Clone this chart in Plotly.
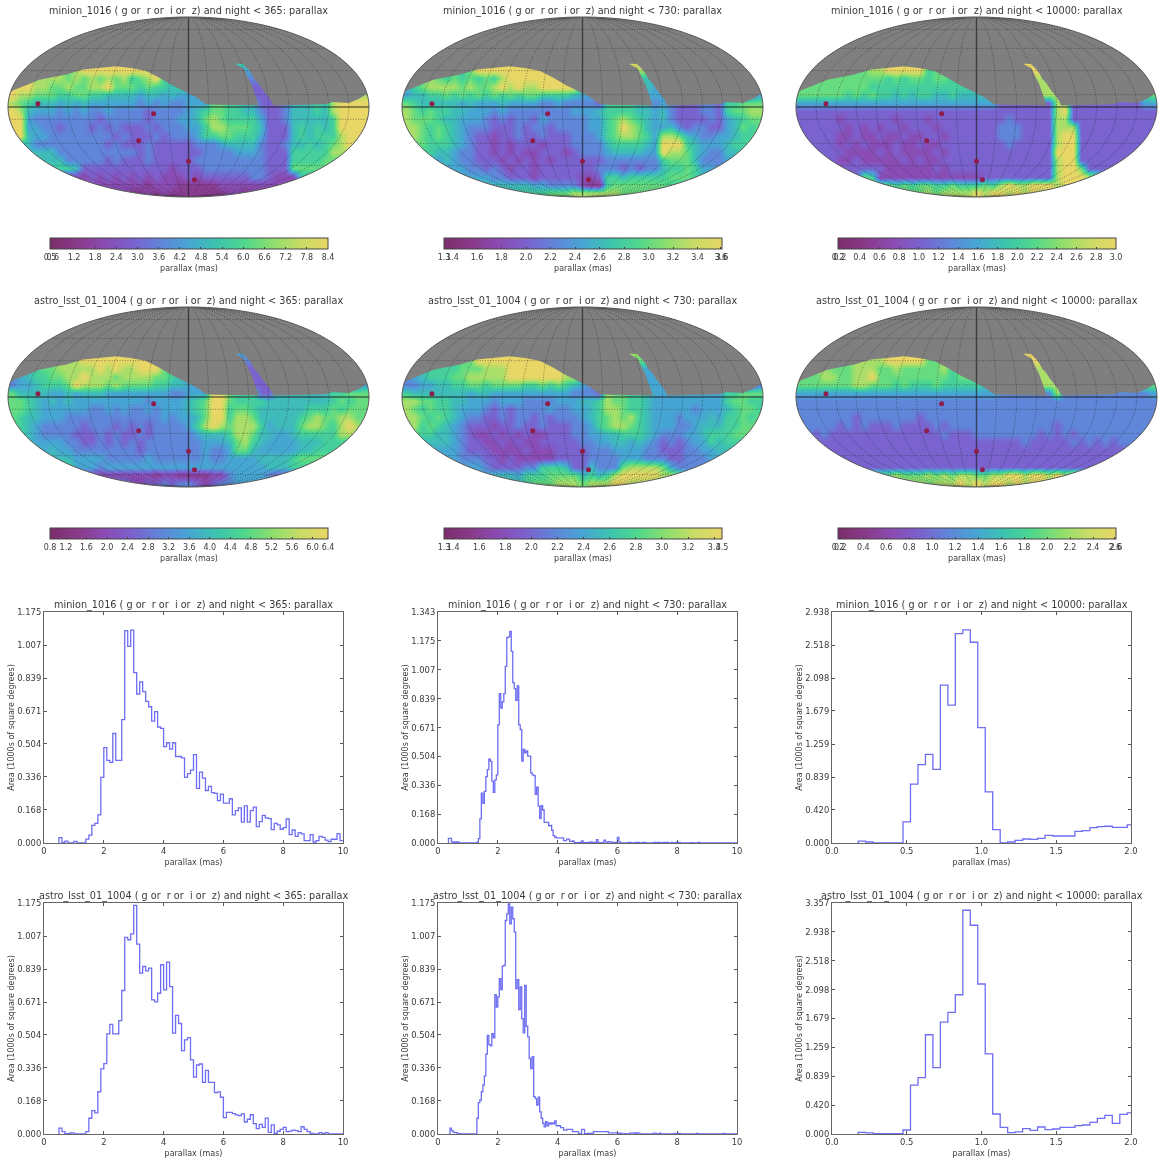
import math
import plotly.graph_objects as go

W, H = 1158, 1163

# ---------- sky maps: level per image cell (9 groups of 5 columns, 22 rows), '.' = no data ----------
blank = "..... ..... ..... ..... ..... ..... ..... ..... ....."
sky_minion_365 = [blank]*5 + [
"..... ..... ..... ..... ..... ...6. ..... ..... .....",
"..... ....9 99999 999.. ..... ....4 ..... ..... .....",
"....8 88787 87878 6789. ..... ....3 3.... ..... .....",
".9988 77877 88977 76766 56... ..... 22... ..... .....",
"98877 76677 66555 54554 5444. ..... .22.. ..... ....8",
"87655 54545 44444 43434 33444 ..... .22.. ..... ..999",
"98544 43434 33433 33233 33456 77665 53223 55565 89999",
"99433 33333 32333 33233 34457 87666 64223 55555 69999",
"99443 32333 23232 22323 33446 88777 65222 56565 69999",
"99544 33333 33323 22232 33346 67766 64222 56566 68999",
"55533 33333 33232 22322 22233 34555 53223 55656 78988",
"55555 53333 33333 32322 22223 33344 43222 66666 88888",
"55555 55333 33232 22322 22233 33333 33222 66667 77777",
"66666 66652 22222 22222 12223 33333 33222 77777 77777",
"55551 11111 21212 12121 11212 22222 33211 15555 55555",
"11111 11111 11111 11011 10000 01111 11111 11111 11111",
"11111 11111 11111 00101 00000 00110 11111 11111 11111",
]
sky_minion_730 = [blank]*5 + [
"..... ..... ..... ..... ..... ...9. ..... ..... .....",
"..... ....9 99999 999.. ..... ....8 ..... ..... .....",
"....7 67676 76899 9999. ..... ....6 5.... ..... .....",
".6788 88787 78989 88999 99... ..... 54... ..... .....",
"45566 76767 67676 77666 6544. ..... .44.. ..... ...34",
"76555 55454 44544 44334 33332 ..... .34.. ..... .6777",
"87676 65544 43433 33333 34445 66665 54532 22332 67788",
"87776 55444 32323 32433 33344 67876 54532 22232 45677",
"88767 65433 32223 23323 33344 67987 54453 23322 45767",
"88767 65432 21223 22322 23334 67887 64887 54334 45667",
"77766 65432 21212 22122 23333 56666 54999 65444 56677",
"66665 54332 21212 11222 12333 45555 44988 75433 55666",
"55554 54332 22121 21212 22222 33333 33677 75333 44566",
"44444 44433 23212 21222 22223 33232 33566 76443 44444",
"55555 55444 43322 21222 22112 66566 66677 76555 55555",
"55555 55555 55555 54433 33100 67777 77766 65555 55555",
"55555 55555 55555 66677 78888 88777 77777 55555 55555",
]
sky_minion_10000 = [blank]*5 + [
"..... ..... ..... ..... ..... ...9. ..... ..... .....",
"..... ....8 89999 9.... ..... ....9 ..... ..... .....",
"....7 77777 76767 7677. ..... ..... 8.... ..... .....",
".7777 77776 66666 66666 66... ..... 88... ..... .....",
"77777 76767 66565 66556 5555. ..... .88.. ..... ...67",
"44444 44444 44444 44444 44444 ..... ..88. ..... ...44",
"22222 22222 22222 22222 22222 22222 22892 22222 22222",
"22222 12222 22122 21222 22222 23222 22882 22222 22222",
"22222 21212 12212 22122 22222 33322 22888 22222 22222",
"22222 11211 21121 12212 22222 33322 22899 22222 22222",
"22222 12121 11211 21122 22222 23222 22899 22222 22222",
"22222 21111 21211 11212 22222 22222 22999 22222 22222",
"22222 11211 11121 21122 22222 22222 22899 22222 22222",
"22222 22222 21111 11212 22222 22222 22899 72222 22222",
"22222 22276 11111 11111 11122 22222 22899 98722 22222",
"77777 77777 77676 77667 66676 89889 99899 98777 77777",
"77777 77777 77777 78788 88989 98989 89898 77777 77777",
]
sky_astro_365 = [blank]*5 + [
"..... ..... ..... ..... ..... ...4. ..... ..... .....",
"..... ....9 99999 999.. ..... ....3 ..... ..... .....",
"....7 78888 89898 8999. ..... ....2 2.... ..... .....",
".4566 77889 88878 88877 65... ..... 22... ..... .....",
"34456 66798 88787 77766 5544. ..... .22.. ..... ...34",
"75555 44545 55444 44444 33444 ..... .22.. ..... .6777",
"77654 54544 44444 44344 44567 99766 66555 55555 67677",
"77654 44444 33434 33434 44567 99677 65555 55666 76777",
"76554 44333 33333 33334 34457 99688 75555 56787 78877",
"76543 33332 33323 23233 33468 98788 86455 57887 68987",
"66543 33322 23232 23233 33345 55688 75544 56666 68887",
"55544 44332 23232 32333 33334 44578 65444 45556 66666",
"55554 54433 33333 32333 33334 33477 54444 45566 67766",
"66665 55544 44333 33433 33334 33444 45555 67777 77777",
"66666 66644 43444 44444 44444 44444 44555 66666 66666",
"22222 22222 11111 11101 10000 11344 44322 22222 22222",
"33333 33333 33333 11223 23321 23344 44444 33333 33333",
]
sky_astro_730 = [blank]*5 + [
"..... ..... ..... ..... ..... ...8. ..... ..... .....",
"..... ....9 99999 999.. ..... ....7 ..... ..... .....",
"....6 66777 88899 9999. ..... ....5 4.... ..... .....",
".4566 67788 88899 99999 88... ..... 44... ..... .....",
"33445 56677 67777 66767 6543. ..... .44.. ..... ...23",
"65555 55545 54444 44444 43332 ..... .44.. ..... .6777",
"88776 65544 43444 33334 44556 87766 54444 44444 67766",
"87676 65444 32323 33343 34456 88766 54444 43444 56776",
"88767 65433 22323 32323 33456 78786 54443 44454 66767",
"78676 54322 21223 22322 23346 78876 54443 34555 66777",
"67665 54321 12121 21122 23344 55666 54333 44566 67776",
"66555 54322 11212 11222 22334 45545 43232 34465 66676",
"55444 44322 21111 21112 22233 34444 33222 33445 55566",
"44444 44333 22121 11112 22233 33444 33322 33344 55555",
"44444 44444 32222 33666 52253 33788 88743 33333 33333",
"44444 44444 45554 66677 77565 68999 99887 55444 44444",
"55555 55555 55555 67778 88788 89988 87776 55555 55555",
]
sky_astro_10000 = [blank]*5 + [
"..... ..... ..... ..... ..... ...9. ..... ..... .....",
"..... ....8 89999 9.... ..... ....9 ..... ..... .....",
"....7 77888 77877 7778. ..... ..... 8.... ..... .....",
".7788 77889 77777 77776 77... ..... 88... ..... .....",
"77777 77887 77676 66766 6665. ..... .88.. ..... ...77",
"44444 44444 44444 44444 44444 ..... ..8.. ..... ....4",
"33333 33333 33333 33333 33333 33333 33333 33333 33333",
"33333 33333 33333 33333 33333 33333 33333 33333 33333",
"33333 33233 33333 23333 33333 33333 33333 33333 33333",
"33333 23232 22322 22323 33333 33333 33233 33333 33333",
"23232 22222 22222 22232 22333 33333 23232 33333 33333",
"22222 22222 22222 22222 22222 22232 22223 23232 33333",
"22222 22222 22222 22222 22222 22222 22222 22222 22222",
"22222 22222 22222 22222 22222 22222 22222 22222 22222",
"22222 22222 22222 22222 22222 22222 22222 22222 22222",
"77777 77777 77877 78787 88778 89989 98989 88877 77777",
"88888 88888 88888 87888 98989 98989 98988 88888 88888",
]
level_fraction = [0.12, 0.20, 0.30, 0.40, 0.50, 0.57, 0.65, 0.74, 0.85, 1.0]

# footprint edge (map units: x -1..1, y -0.5..0.5)
north_edge_x = [-1.0, -.972, -.935, -.88, -.825, -.77, -.677, -.585, -.493, -.40, -.309, -.235, -.161, -.088, -.014,
                .041, .097, .152, .39]
north_edge_y = [.065, .093, .107, .13, .152, .163, .181, .209, .217, .226, .215, .2, .163, .12, .083,
                .056, .015, .013, .009]
east_edge_x = [.47, .76, .797, .889, .945, .982, 1.0]
east_edge_y = [.009, .015, .028, .022, .046, .069, .074]
streak_y = [.009, .046, .074, .102, .13, .157, .185, .213, .24]
streak_left = [.39, .377, .364, .355, .346, .332, .319, .306, .258]
streak_right = [.47, .451, .429, .407, .389, .364, .35, .328, .3]

ddf_x = [-0.834, -0.193, -0.276, 0.0, 0.033]
ddf_y = [0.0185, -0.037, -0.187, -0.302, -0.404]

sky_titles = [
    "minion_1016 ( g or  r or  i or  z) and night < 365: parallax",
    "minion_1016 ( g or  r or  i or  z) and night < 730: parallax",
    "minion_1016 ( g or  r or  i or  z) and night < 10000: parallax",
    "astro_lsst_01_1004 ( g or  r or  i or  z) and night < 365: parallax",
    "astro_lsst_01_1004 ( g or  r or  i or  z) and night < 730: parallax",
    "astro_lsst_01_1004 ( g or  r or  i or  z) and night < 10000: parallax",
]
sky_grids = [sky_minion_365, sky_minion_730, sky_minion_10000,
             sky_astro_365, sky_astro_730, sky_astro_10000]
sky_range = [(0.52, 8.4), (1.33, 3.6), (0.18, 3.0), (0.89, 6.3), (1.33, 3.46), (0.18, 2.6)]
sky_tickvals = [
    [0.52, 0.6, 1.2, 1.8, 2.4, 3.0, 3.6, 4.2, 4.8, 5.4, 6.0, 6.6, 7.2, 7.8, 8.4],
    [1.33, 1.4, 1.6, 1.8, 2.0, 2.2, 2.4, 2.6, 2.8, 3.0, 3.2, 3.4, 3.59, 3.6],
    [0.18, 0.2, 0.4, 0.6, 0.8, 1.0, 1.2, 1.4, 1.6, 1.8, 2.0, 2.2, 2.4, 2.6, 2.8, 3.0],
    [0.89, 1.2, 1.6, 2.0, 2.4, 2.8, 3.2, 3.6, 4.0, 4.4, 4.8, 5.2, 5.6, 6.0, 6.3],
    [1.33, 1.4, 1.6, 1.8, 2.0, 2.2, 2.4, 2.6, 2.8, 3.0, 3.2, 3.4, 3.46],
    [0.18, 0.2, 0.4, 0.6, 0.8, 1.0, 1.2, 1.4, 1.6, 1.8, 2.0, 2.2, 2.4, 2.59, 2.6],
]
sky_ticktext = [
    ["0.5", "0.6", "1.2", "1.8", "2.4", "3.0", "3.6", "4.2", "4.8", "5.4", "6.0", "6.6", "7.2", "7.8", "8.4"],
    ["1.3", "1.4", "1.6", "1.8", "2.0", "2.2", "2.4", "2.6", "2.8", "3.0", "3.2", "3.4", "3.6", "3.6"],
    ["0.2", "0.2", "0.4", "0.6", "0.8", "1.0", "1.2", "1.4", "1.6", "1.8", "2.0", "2.2", "2.4", "2.6", "2.8", "3.0"],
    ["0.8", "1.2", "1.6", "2.0", "2.4", "2.8", "3.2", "3.6", "4.0", "4.4", "4.8", "5.2", "5.6", "6.0", "6.4"],
    ["1.3", "1.4", "1.6", "1.8", "2.0", "2.2", "2.4", "2.6", "2.8", "3.0", "3.2", "3.4", "3.5"],
    ["0.2", "0.2", "0.4", "0.6", "0.8", "1.0", "1.2", "1.4", "1.6", "1.8", "2.0", "2.2", "2.4", "2.6", "2.6"],
]

# ---------- histograms: area per bin ----------
hist_a_start, hist_a_width = 0.5, 0.1
hist_a = [.027,.003,.01,0,0,.008,0,0,0,.02,.04,.09,.10,.143,.334,.485,.42,.41,.557,.42,.42,.628,1.08,1.0,1.083,
 .867,.758,.82,.77,.72,.693,.62,.668,.59,.583,.49,.51,.477,.51,.44,.44,.433,.334,.353,.371,.45,.278,.361,.33,.267,
 .288,.256,.252,.216,.249,.203,.203,.225,.143,.165,.179,.106,.189,.106,.165,.182,.083,.109,.141,.128,.124,.068,.10,.092,.07,
 .078,.122,.043,.066,.034,.053,.046,.012,.012,.043,.005,.012,.034,.029,.015,.007,.019,.019,.048,.012]
hist_d_start, hist_d_width = 0.5, 0.1
hist_d = [.03,.012,.002,.003,.006,0,0,0,0,.012,.08,.119,.107,.215,.331,.358,.509,.558,.509,.509,.577,.73,1.0,.988,1.018,
 1.163,.966,.818,.852,.83,.844,.682,.672,.716,.861,.733,.874,.75,.513,.603,.562,.424,.479,.49,.377,.289,.351,.356,.263,.324,
 .263,.263,.21,.214,.187,.083,.11,.11,.104,.097,.093,.102,.061,.075,.098,.053,.027,.049,.034,.081,.008,.046,.003,.014,.024,
 .034,.012,.015,.02,.017,.012,.037,.024,.012,.003,0,0,.007,.002,.007,0,0,0,0,0]
hist_b_start, hist_b_width = 0.35, 0.05
hist_b = [.027,.027,.006,.003,.006,.004,.006, 0,0,0,0,0,0,0,0,0,0,0,0,
 .004,.025,.14,.29,.23,.30,.386,.427,.487,.475,.36,.295,.367,.396,
 .687,.868,.784,.82,.868,1.027,1.194,1.198,1.23,1.114,
 .932,.897,.829,.913,.687,.66,.476,.544,.524,.536,
 .505,.505,.408,.396,.392,.283,.324,.214,.144,.217,
 .192,.12,.12,.12,.10,.103,.074,.043,.035,.03,
 .03,.03,.03,.03,.014,.014,.023,.023,.01,.01,
 .012,.004,.002,.002,.004,.004,.012,.004,.002,.002,
 .004,.004,.006,.003,.004,.003,.02,.003,.002,.002,
 .002,.016,.006,.002,.008,.006,.004,.003,.004,.002,
 .033,.006,0,0,0,0,0,.004,.004,.002,
 0,0,.003,0,.003,0,0,.003,.003,0,
 0,0,0,0,.003,.004,0,.003,0,.002,
 0,.003,0,.003,0,0,.004,0,0,.003,
 0,.003,0,0,0,0,0,0,0,.002,
 0,0,0,0,.003,0,0,0,0,0,
 0,0,0,0,0,0,0,0,0,0,
 0,0,0,0,0,0,0,0,0,0]
hist_e_start, hist_e_width = 0.4, 0.05
hist_e = [.03,.017,.01,.007,.007,.002,.002,.001,0,0,0,0,0,0,0,0,0,0,
 .08,.16,.173,.215,.249,.296,.406,.502,.455,.448,.511,.489,.709,.646,
 .697,.79,.734,.854,.858,1.086,1.12,1.17,1.069,1.154,
 1.095,1.027,.739,.785,.633,.748,.587,.514,.756,.548,
 .494,.384,.333,.394,.19,.18,.147,.188,.113,.08,
 .054,.036,.063,.042,.056,.05,.056,.052,.066,.042,
 .042,.042,.032,.032,.02,.02,.024,.024,.024,.024,
 .012,.012,.012,.012,.002,.002,.024,.024,.002,.002,
 .003,.003,.003,.004,.012,.012,.012,.012,.012,.012,
 .012,.012,.012,.012,.006,.006,.006,.006,.006,.006,
 .004,0,.004,0,0,.002,0,0,.004,.004,
 .004,.006,.003,.006,.004,0,0,0,0,0,
 0,0,0,0,.004,.004,0,0,.004,0,
 0,0,0,0,0,0,0,0,.003,0,
 0,.003,0,0,0,0,0,0,0,0,
 0,0,0,.003,0,0,0,0,0,0,
 0,0,0,0,0,0,0,0,0,0,
 0,.003,0,0,0,0,0,0,0,0]
hist_c_start, hist_c_width = 0.175, 0.05
hist_c = [.025,.013,.002,.002,.002,.002,.268,.749,.996,1.128,.936,2.009,1.753,2.664,2.711,2.553,1.468,.651,.17,.002,
 .013,.034,.051,.047,.06,.098,.089,.089,.089,.149,.157,.196,.209,.213,.2,.2,.23]
hist_f_start, hist_f_width = 0.175, 0.05
hist_f = [.024,.015,.004,.004,.004,.004,.058,.709,.82,1.442,.966,1.626,1.767,2.024,3.252,3.034,2.18,1.165,.291,.097,
 .02,.03,.078,.053,.102,.063,.073,.097,.097,.121,.131,.17,.228,.272,.155,.286,.306]

hist_series = [(hist_a_start, hist_a_width, hist_a), (hist_b_start, hist_b_width, hist_b), (hist_c_start, hist_c_width, hist_c),
               (hist_d_start, hist_d_width, hist_d), (hist_e_start, hist_e_width, hist_e), (hist_f_start, hist_f_width, hist_f)]
yticks_low = [0.0, .168, .336, .504, .671, .839, 1.007, 1.175]
yticks_mid = [0.0, .168, .336, .504, .671, .839, 1.007, 1.175, 1.343]
yticks_high = [0.0, .420, .839, 1.259, 1.679, 2.098, 2.518, 2.938]
yticks_top = [0.0, .420, .839, 1.259, 1.679, 2.098, 2.518, 2.938, 3.357]
hist_yticks = [yticks_low, yticks_mid, yticks_high, yticks_low, yticks_low, yticks_top]
xticks_wide = [0, 2, 4, 6, 8, 10]
xticks_narrow = [0.0, 0.5, 1.0, 1.5, 2.0]
hist_xticks = [xticks_wide, xticks_wide, xticks_narrow, xticks_wide, xticks_wide, xticks_narrow]

# ---------- style and layout ----------
FONT = "DejaVu Sans"
TXT = "#3a3a3a"
GRAY = "#7f7f7f"
colorscale = [[0.0, "#7b2d6b"], [0.1, "#8a3a8a"], [0.2, "#8a4cb4"], [0.3, "#7a62cf"], [0.4, "#5f86d9"],
              [0.5, "#46a6d3"], [0.6, "#3cc4ae"], [0.7, "#4fd88c"], [0.8, "#8cdf6e"], [0.9, "#c8dc66"], [1.0, "#e8d666"]]

map_boxes = [(8, 17), (402, 17), (796, 17), (8, 307), (402, 307), (796, 307)]   # left, top of ellipse box
MAP_W, MAP_H = 361, 180
PAD = 1   # px of room round the ellipse so the white mask covers every edge of the heatmap
bar_boxes = [(50, 238), (444, 238), (838, 238), (50, 528), (444, 528), (838, 528)]
BAR_W, BAR_H = 278, 11
hist_boxes = [(44, 612), (438, 612), (832, 612), (44, 903), (438, 903), (832, 903)]
HIST_W, HIST_H = 299, 231
title_y_map = [10.5, 10.5, 10.5, 300.5, 300.5, 300.5]
title_y_hist = [605, 605, 605, 896, 896, 896]


def theta_of(lat):
    p = math.radians(lat)
    t = p
    for _ in range(60):
        d = 2*t + math.sin(2*t) - math.pi*math.sin(p)
        dd = 2 + 2*math.cos(2*t)
        if abs(dd) < 1e-9:
            break
        t -= d/dd
    return t


def proj(lon, lat):
    t = theta_of(lat)
    return lon/180*math.cos(t), 0.5*math.sin(t)


def fill_rows(rows):
    """Cells without data take a neighbour's level, so the smoothed image has no holes; the gray footprint trace hides them."""
    cells = [list(r.replace(" ", "").ljust(45, ".")[:45]) for r in rows]
    for r in range(len(cells)-2, -1, -1):
        row = cells[r]
        src = row[:]
        for c in range(45):
            if src[c] != ".":
                continue
            below = cells[r+1][c]
            has = [k for k in range(45) if src[k] != "."]
            if r == 10 or c < 24 or not has:
                row[c] = below
            else:
                row[c] = src[min(has, key=lambda k: abs(k-c))]
    return cells


ex_pad = 2*PAD/MAP_W
ey_pad = PAD/MAP_H
RX, RY = 1+ex_pad, 0.5+ey_pad
ellipse = [(math.cos(2*math.pi*i/180), 0.5*math.sin(2*math.pi*i/180)) for i in range(180)]
ellipse_path = "M" + " L".join(f"{a:.4f},{b:.4f}" for a, b in ellipse) + " Z"
mask_path = f"M{-RX},{-RY} L{RX},{-RY} L{RX},{RY} L{-RX},{RY} Z " + ellipse_path

gray_x = north_edge_x + streak_left + streak_right[::-1] + east_edge_x + [RX, RX, -RX, -RX]
gray_y = north_edge_y + streak_y + streak_y[::-1] + east_edge_y + [east_edge_y[-1], RY, RY, north_edge_y[0]]

grid_x, grid_y = [], []
lats = [la for la in range(-89, 90, 4)] + [89]
for lon in [m for m in range(-160, 161, 20) if m != 0]:
    for la in lats:
        a, b = proj(lon, la)
        grid_x.append(a); grid_y.append(b)
    grid_x.append(None); grid_y.append(None)
for lat in (-70, -50, -30, -10, 10, 30, 50, 70):
    for lo in range(-180, 181, 10):
        a, b = proj(lo, lat)
        grid_x.append(a); grid_y.append(b)
    grid_x.append(None); grid_y.append(None)

fig = go.Figure()
layout = dict(width=W, height=H, margin=dict(l=0, r=0, t=0, b=0, autoexpand=False), paper_bgcolor="white", plot_bgcolor="white",
              showlegend=False, font=dict(family=FONT, size=8, color=TXT), hovermode=False)
shapes, annotations = [], []

for i, rows in enumerate(sky_grids):
    ax = i + 1
    xn, yn = ("x" if ax == 1 else f"x{ax}"), ("y" if ax == 1 else f"y{ax}")
    xa, ya = ("xaxis" if ax == 1 else f"xaxis{ax}"), ("yaxis" if ax == 1 else f"yaxis{ax}")
    left, top = map_boxes[i]
    layout[xa] = dict(domain=[(left-PAD)/W, min(1, (left+MAP_W+PAD)/W)], range=[-RX, RX], visible=False, anchor=yn)
    layout[ya] = dict(domain=[1-(top+MAP_H+PAD)/H, 1-(top-PAD)/H], range=[-RY, RY], visible=False, anchor=xn)
    vmin, vmax = sky_range[i]
    cells = fill_rows(rows)
    z = [[None if ch == "." else vmin + level_fraction[int(ch)]*(vmax-vmin) for ch in row] for row in reversed(cells)]
    nr = len(cells)
    bx, by = bar_boxes[i]
    fig.add_trace(go.Heatmap(
        z=z,
        x=[-1 + (c+0.5)*2/45 for c in range(45)],
        y=[-0.5 + (r+0.5)/nr for r in range(nr)],
        xaxis=xn, yaxis=yn, zmin=vmin, zmax=vmax, colorscale=colorscale, zsmooth="best", hoverinfo="skip",
        colorbar=dict(orientation="h", x=bx/W, xanchor="left", y=1-by/H, yanchor="top",
                      len=BAR_W, lenmode="pixels", thickness=BAR_H, thicknessmode="pixels", xpad=0, ypad=0,
                      outlinewidth=1, outlinecolor="#444444", borderwidth=0,
                      tickmode="array", tickvals=sky_tickvals[i], ticktext=sky_ticktext[i], tickangle=0,
                      ticks="inside", ticklen=2, tickwidth=0.6, tickcolor="#444444",
                      tickfont=dict(family=FONT, size=8, color=TXT),
                      title=dict(text="parallax (mas)", side="bottom", font=dict(family=FONT, size=8, color=TXT))),
    ))
    fig.add_trace(go.Scatter(x=gray_x, y=gray_y, xaxis=xn, yaxis=yn, mode="lines", fill="toself", hoverinfo="skip",
                             fillcolor=GRAY, line=dict(color=GRAY, width=0)))
    fig.add_trace(go.Scatter(x=grid_x, y=grid_y, xaxis=xn, yaxis=yn, mode="lines", hoverinfo="skip",
                             line=dict(color="rgba(30,30,30,0.6)", width=0.8, dash="1px,1.6px")))
    fig.add_trace(go.Scatter(x=[-1, 1, None, 0, 0], y=[0, 0, None, -0.5, 0.5], xaxis=xn, yaxis=yn, mode="lines",
                             hoverinfo="skip", line=dict(color="rgba(25,25,25,0.62)", width=1.4)))
    fig.add_trace(go.Scatter(x=ddf_x, y=ddf_y, xaxis=xn, yaxis=yn, mode="markers", hoverinfo="skip",
                             marker=dict(color="#8f1d4c", size=5, line=dict(width=0))))
    shapes.append(dict(type="path", path=mask_path, xref=xn, yref=yn, layer="above",
                       fillcolor="white", line=dict(width=0)))
    shapes.append(dict(type="path", path=ellipse_path, xref=xn, yref=yn, layer="above",
                       fillcolor="rgba(0,0,0,0)", line=dict(width=1, color="#555555")))
    annotations.append(dict(text=sky_titles[i], xref="paper", yref="paper", x=(left+MAP_W/2)/W, y=1-title_y_map[i]/H,
                            xanchor="center", yanchor="middle", showarrow=False,
                            font=dict(family=FONT, size=9.7, color=TXT)))

for i, (start, width, values) in enumerate(hist_series):
    ax = i + 7
    xn, yn, xa, ya = f"x{ax}", f"y{ax}", f"xaxis{ax}", f"yaxis{ax}"
    left, top = hist_boxes[i]
    xticks, yticks = hist_xticks[i], hist_yticks[i]
    layout[xa] = dict(domain=[left/W, (left+HIST_W)/W], range=[xticks[0], xticks[-1]], anchor=yn,
                      tickmode="array", tickvals=xticks,
                      ticktext=[str(t) if xticks is xticks_wide else f"{t:.1f}" for t in xticks],
                      ticks="inside", ticklen=3, tickwidth=0.7, tickcolor="#555555", mirror="ticks",
                      showline=True, linecolor="#666666", linewidth=1.2, showgrid=False, zeroline=False,
                      tickfont=dict(family=FONT, size=8.4, color=TXT),
                      title=dict(text="parallax (mas)", standoff=4, font=dict(family=FONT, size=8, color=TXT)))
    layout[ya] = dict(domain=[1-(top+HIST_H)/H, 1-top/H], range=[0, yticks[-1]], anchor=xn,
                      tickmode="array", tickvals=yticks, ticktext=[f"{t:.3f}" for t in yticks],
                      ticks="inside", ticklen=3, tickwidth=0.7, tickcolor="#555555", mirror="ticks",
                      showline=True, linecolor="#666666", linewidth=1.2, showgrid=False, zeroline=False,
                      tickfont=dict(family=FONT, size=8.4, color=TXT),
                      title=dict(text="Area (1000s of square degrees)", standoff=1,
                                 font=dict(family=FONT, size=8, color=TXT)))
    edges = [start + k*width for k in range(len(values)+1)]
    fig.add_trace(go.Scatter(x=[edges[0]] + edges, y=[0.0] + values + [values[-1]], xaxis=xn, yaxis=yn, mode="lines",
                             hoverinfo="skip", line=dict(color="#6e6ef4", width=1.3, shape="hv")))
    annotations.append(dict(text=sky_titles[i], xref="paper", yref="paper", x=(left+HIST_W/2)/W, y=1-title_y_hist[i]/H,
                            xanchor="center", yanchor="middle", showarrow=False,
                            font=dict(family=FONT, size=9.7, color=TXT)))

layout["shapes"] = shapes
layout["annotations"] = annotations
fig.update_layout(**layout)
fig.write_html("out.html", config=dict(displayModeBar=False),
               post_script="document.body.style.margin='0';document.querySelector('.plotly-graph-div').style.filter='blur(0.45px)';")
